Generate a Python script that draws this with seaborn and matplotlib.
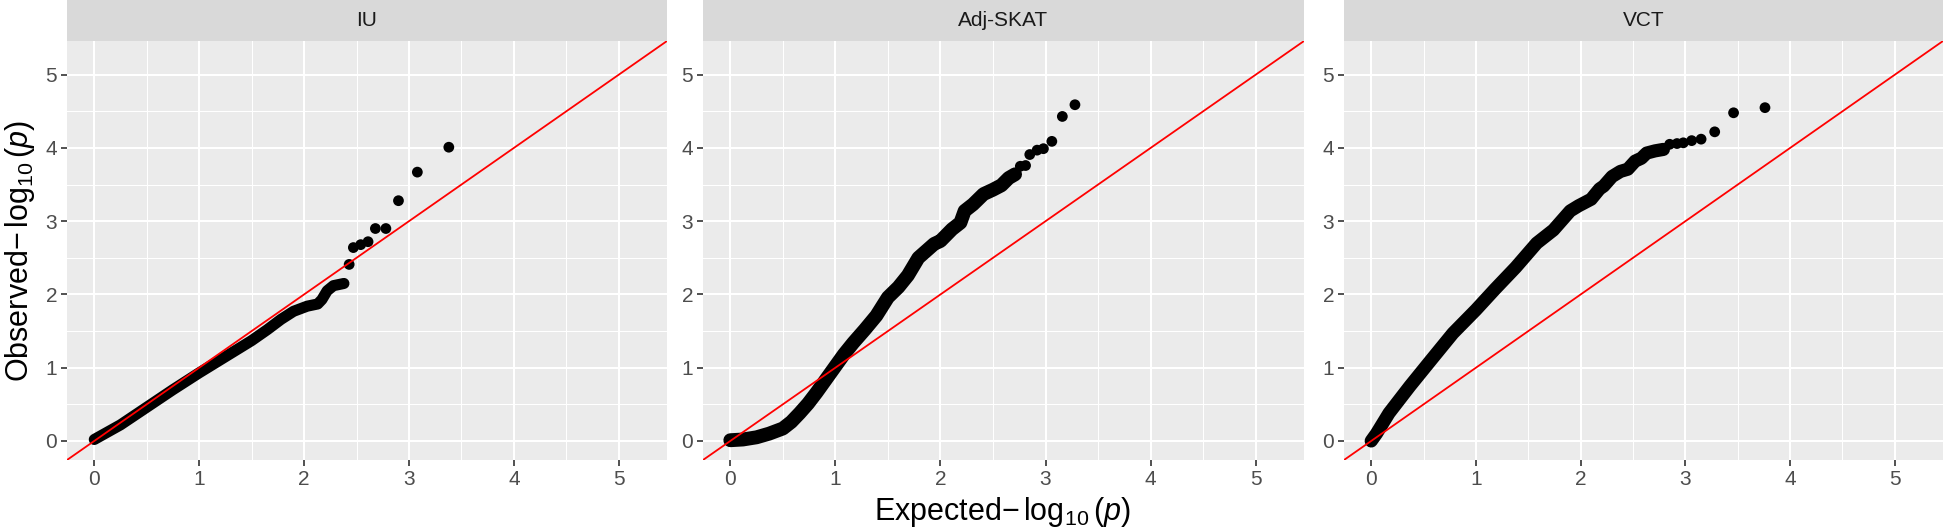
import numpy as np
import pandas as pd
import matplotlib
matplotlib.use("Agg")
import matplotlib.pyplot as plt
import seaborn as sns
from matplotlib.patches import Rectangle
from matplotlib import font_manager

# QQ plot data: dense band traced as a path, tail as single points
panels = ["IU", "Adj-SKAT", "VCT"]

iu_band_x = [0.0, 0.25, 0.5, 0.75, 1.0, 1.25, 1.5, 1.65, 1.78, 1.9, 2.03, 2.13, 2.17, 2.22, 2.28, 2.38]
iu_band_y = [0.02, 0.22, 0.46, 0.70, 0.93, 1.15, 1.37, 1.52, 1.66, 1.77, 1.84, 1.87, 1.93, 2.05, 2.12, 2.15]
iu_tail_x = [2.43, 2.47, 2.54, 2.61, 2.68, 2.78, 2.90, 3.08, 3.38]
iu_tail_y = [2.41, 2.64, 2.68, 2.72, 2.90, 2.90, 3.28, 3.67, 4.01]

skat_band_x = [0.0, 0.12, 0.25, 0.37, 0.5, 0.58, 0.66, 0.74, 0.82, 0.91, 1.0, 1.08, 1.17, 1.28, 1.39,
               1.5, 1.6, 1.69, 1.79, 1.94, 2.0, 2.11, 2.19, 2.23, 2.31, 2.41, 2.50, 2.58, 2.65, 2.71]
skat_band_y = [0.01, 0.02, 0.05, 0.10, 0.17, 0.26, 0.38, 0.51, 0.66, 0.84, 1.02, 1.18, 1.34, 1.52, 1.71,
               1.96, 2.10, 2.26, 2.50, 2.69, 2.73, 2.89, 2.98, 3.14, 3.23, 3.37, 3.43, 3.49, 3.59, 3.64]
skat_tail_x = [2.76, 2.81, 2.85, 2.92, 2.98, 3.06, 3.16, 3.28]
skat_tail_y = [3.75, 3.76, 3.91, 3.97, 3.99, 4.09, 4.43, 4.59]

vct_band_x = [0.0, 0.05, 0.17, 0.37, 0.58, 0.78, 1.0, 1.18, 1.38, 1.58, 1.74, 1.90, 1.98, 2.10,
              2.18, 2.22, 2.30, 2.38, 2.45, 2.52, 2.58, 2.63, 2.71, 2.79]
vct_band_y = [0.0, 0.10, 0.38, 0.75, 1.12, 1.47, 1.79, 2.07, 2.37, 2.70, 2.88, 3.14, 3.21, 3.30,
              3.44, 3.48, 3.61, 3.68, 3.71, 3.82, 3.86, 3.93, 3.96, 3.98]
vct_tail_x = [2.85, 2.92, 2.98, 3.06, 3.15, 3.28, 3.46, 3.76]
vct_tail_y = [4.05, 4.06, 4.07, 4.10, 4.12, 4.22, 4.48, 4.55]

band = pd.concat([
    pd.DataFrame({"panel": "IU", "expected": iu_band_x, "observed": iu_band_y}),
    pd.DataFrame({"panel": "Adj-SKAT", "expected": skat_band_x, "observed": skat_band_y}),
    pd.DataFrame({"panel": "VCT", "expected": vct_band_x, "observed": vct_band_y}),
])
tail = pd.concat([
    pd.DataFrame({"panel": "IU", "expected": iu_tail_x, "observed": iu_tail_y}),
    pd.DataFrame({"panel": "Adj-SKAT", "expected": skat_tail_x, "observed": skat_tail_y}),
    pd.DataFrame({"panel": "VCT", "expected": vct_tail_x, "observed": vct_tail_y}),
])
band_width = {"IU": 8, "Adj-SKAT": 10, "VCT": 9.5}

names = {f.name for f in font_manager.fontManager.ttflist}
narrow = "Liberation Sans Narrow" if "Liberation Sans Narrow" in names else "Liberation Sans"
plt.rcParams["font.family"] = [narrow, "DejaVu Sans"]
plt.rcParams["mathtext.fontset"] = "custom"
plt.rcParams["mathtext.rm"] = narrow
plt.rcParams["mathtext.it"] = narrow + ":italic"

W, H = 1943, 531
fig = plt.figure(figsize=(W / 100, H / 100), dpi=100)

lefts = [67, 703, 1344]
rights = [667, 1304, 1943]
top, bottom = 41, 460

for name, l, r in zip(panels, lefts, rights):
    ax = fig.add_axes([l / W, 1 - bottom / H, (r - l) / W, (bottom - top) / H])
    ax.set_facecolor("#EBEBEB")
    ax.set_xlim(-0.26, 5.46)
    ax.set_ylim(-0.26, 5.46)
    ax.set_xticks(range(6))
    ax.set_yticks(range(6))
    ax.set_xticks(np.arange(0.5, 5.5, 1), minor=True)
    ax.set_yticks(np.arange(0.5, 5.5, 1), minor=True)
    ax.grid(which="major", color="white", lw=1.5)
    ax.grid(which="minor", color="white", lw=0.75)
    ax.set_axisbelow(True)
    for s in ax.spines.values():
        s.set_visible(False)
    ax.tick_params(which="major", length=4, width=1.2, color="#333333",
                   labelsize=15, labelcolor="#4D4D4D", pad=3)
    ax.tick_params(which="minor", length=0)

    b = band[band["panel"] == name]
    t = tail[tail["panel"] == name]
    sns.lineplot(data=b, x="expected", y="observed", sort=False, estimator=None,
                 color="black", lw=band_width[name], solid_capstyle="round",
                 solid_joinstyle="round", ax=ax)
    sns.scatterplot(data=t, x="expected", y="observed", color="black", s=60,
                    edgecolor="none", ax=ax)
    ax.axline((0, 0), slope=1, color="#FF0000", lw=1.3, zorder=5)
    ax.set_xlabel("")
    ax.set_ylabel("")

    # facet strip
    ax.add_patch(Rectangle((0, 1), 1, top / (bottom - top), transform=ax.transAxes,
                           facecolor="#D9D9D9", edgecolor="none", clip_on=False))
    ax.text(0.5, 1 + top / (bottom - top) / 2, name, transform=ax.transAxes,
            ha="center", va="center", fontsize=15, color="#1A1A1A")

fig.text(1002 / W, 1 - 512 / H, r"Expected$-\,\log_{10}(p)$", ha="center", va="center",
         fontsize=22)
fig.text(20 / W, 1 - 251 / H, r"Observed$-\,\log_{10}(p)$", ha="center", va="center",
         rotation=90, fontsize=22)

fig.savefig("out.png", dpi=100, facecolor="white")
